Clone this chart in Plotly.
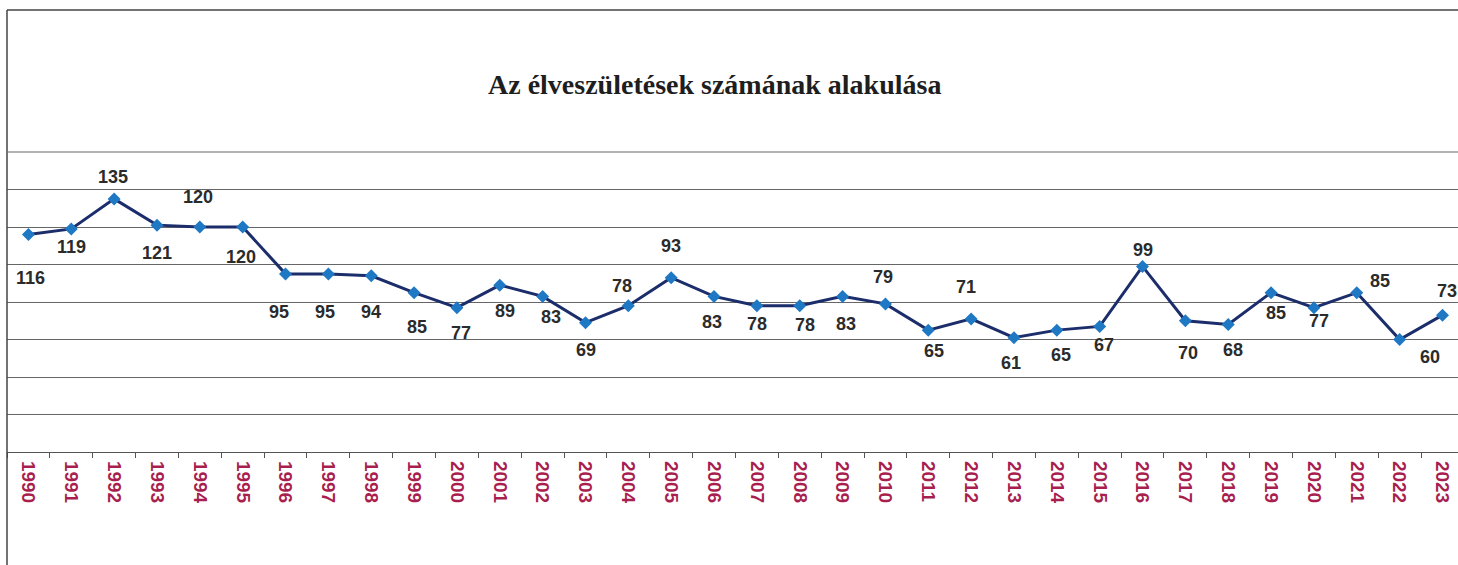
import plotly.graph_objects as go

# Élveszületések száma évenként
years = [str(y) for y in range(1990, 2024)]
births = [116, 119, 135, 121, 120, 120, 95, 95, 94, 85, 77, 89, 83, 69, 78, 93,
          83, 78, 78, 83, 79, 65, 71, 61, 65, 67, 99, 70, 68, 85, 77, 85, 60, 73]

title_text = "Az élveszületések számának alakulása"

# label placement (pixels, screen direction: +dy = down)
label_dx = [2, 0, -1, 0, -2, -2, -7, -3, 0, 3, 4, 5, 8, 1, -6, 0,
            -2, 0, 5, 3, -2, 6, -5, -3, 4, 4, 0, 3, 5, 5, 5, 23, 30, 5]
label_dy = [43, 18, -22, 28, -30, 30, 38, 38, 36, 34, 25, 26, 21, 27, -20, -32,
            26, 18, 19, 28, -27, 21, -32, 25, 25, 19, -16, 32, 25, 20, 13, -12, 17, -24]

W, H = 1458, 565
L, T, B = 7, 152, 113
plot_w = W - L
step = 42.85

fig = go.Figure()
fig.add_trace(go.Scatter(
    x=years, y=births, mode="lines+markers",
    line=dict(color="#1c2d6b", width=3),
    marker=dict(symbol="diamond", size=10, color="#1f78c4"),
    hoverinfo="x+y", showlegend=False,
))

# category axis: place labels by index
for i, (v, dx, dy) in enumerate(zip(births, label_dx, label_dy)):
    fig.add_annotation(
        x=i, y=v, text=str(v), showarrow=False,
        xshift=dx, yshift=-dy,
        font=dict(family="Liberation Sans, Arial", size=18, color="#2b2b2b", weight="bold"),
    )

fig.add_annotation(
    xref="paper", yref="paper",
    x=(714 - L) / plot_w, y=(452 - 85) / 300,
    text="<b>" + title_text + "</b>", showarrow=False,
    xanchor="center", yanchor="middle",
    font=dict(family="Liberation Serif, Times New Roman", size=28, color="#1e1e1e"),
)

# chart frame (top and left border) + top gridline
top = (452 - 10) / 300
fig.add_shape(type="line", xref="paper", yref="paper",
              x0=0, x1=1.05, y0=top, y1=top,
              line=dict(color="#444", width=1.5))
fig.add_shape(type="line", xref="paper", yref="paper",
              x0=0, x1=0, y0=-0.5, y1=top,
              line=dict(color="#444", width=1.5))
fig.add_shape(type="line", xref="paper", yref="paper",
              x0=0, x1=1.05, y0=1, y1=1,
              line=dict(color="#666", width=1.2))

fig.update_layout(
    width=W, height=H,
    margin=dict(l=L, r=0, t=T, b=B, autoexpand=False),
    paper_bgcolor="white", plot_bgcolor="white",
    xaxis=dict(
        type="category",
        range=[-0.5, -0.5 + plot_w / step],
        tickson="boundaries", ticks="outside", ticklen=5, tickcolor="#555",
        showline=True, linecolor="#555", linewidth=1.2,
        showgrid=False, tickangle=90, automargin=False, ticklabelstandoff=4,
        tickfont=dict(family="Liberation Sans, Arial", size=19, color="#a81f4f", weight="bold"),
    ),
    yaxis=dict(
        range=[0, 160], dtick=20,
        showgrid=True, gridcolor="#666", gridwidth=1.2,
        showticklabels=False, zeroline=False, showline=False,
    ),
)

fig.write_html("out.html", config={"displayModeBar": False},
               post_script="document.body.style.margin='0';")
